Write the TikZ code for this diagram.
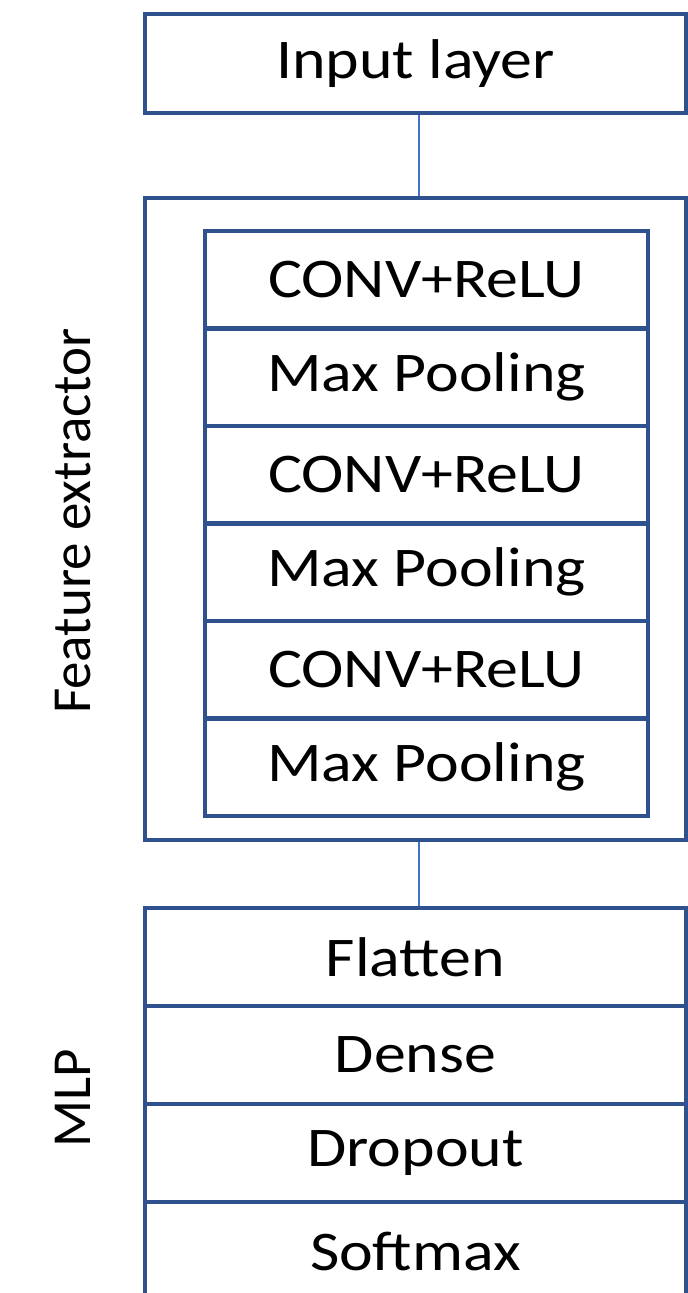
\documentclass[tikz,border=0pt]{standalone}
\usepackage{fontspec}
\setmainfont{Carlito}
\newfontfamily\widefont[FakeStretch=1.14]{Carlito}
\definecolor{boxblue}{HTML}{2F528F}
\definecolor{linkblue}{HTML}{4472C4}
\begin{document}
\begin{tikzpicture}[x=0.5pt,y=-0.5pt,
  txt/.style={font=\widefont\fontsize{28}{32}\selectfont, text=black},
  outerbox/.style={draw=boxblue, line width=2.1pt, minimum width=270.5pt, inner sep=0pt},
  rowbox/.style={outerbox, minimum height=49pt, txt},
  innerrow/.style={draw=boxblue, line width=2.1pt, minimum width=221.5pt, minimum height=48.75pt, inner sep=0pt, txt},
  link/.style={draw=linkblue, line width=1pt},
  sidelabel/.style={font=\fontsize{27.5}{32}\selectfont, text=black, rotate=90}]
\useasboundingbox (0,0) rectangle (688,1293);
\clip (0,0) rectangle (688,1293);
% input
\node[rowbox, minimum height=49.5pt] (input) at (415.5,63.5) {Input layer};
% feature extractor
\node[outerbox, minimum height=321pt] (feat) at (415.5,519) {};
\node[innerrow] (c1) at (426.5,279.75) {CONV+ReLU};
\node[innerrow] (p1) at (426.5,377.25) {Max Pooling};
\node[innerrow] (c2) at (426.5,474.75) {CONV+ReLU};
\node[innerrow] (p2) at (426.5,572.25) {Max Pooling};
\node[innerrow] (c3) at (426.5,669.75) {CONV+ReLU};
\node[innerrow] (p3) at (426.5,767.25) {Max Pooling};
% MLP
\node[rowbox] (flat) at (415.5,957) {Flatten};
\node[rowbox] (dense) at (415.5,1055) {Dense};
\node[rowbox] (drop) at (415.5,1153) {Dropout};
\node[rowbox] (soft) at (415.5,1251) {Softmax};
% labels
\node[sidelabel] (featlab) at (73,521) {Feature extractor};
\node[sidelabel] (mlplab) at (73,1098) {MLP};
% connectors
\draw[link] ([xshift=1.75pt]input.south) -- ([xshift=1.75pt]feat.north);
\draw[link] ([xshift=1.75pt]feat.south) -- ([xshift=1.75pt]flat.north);
\end{tikzpicture}
\end{document}
